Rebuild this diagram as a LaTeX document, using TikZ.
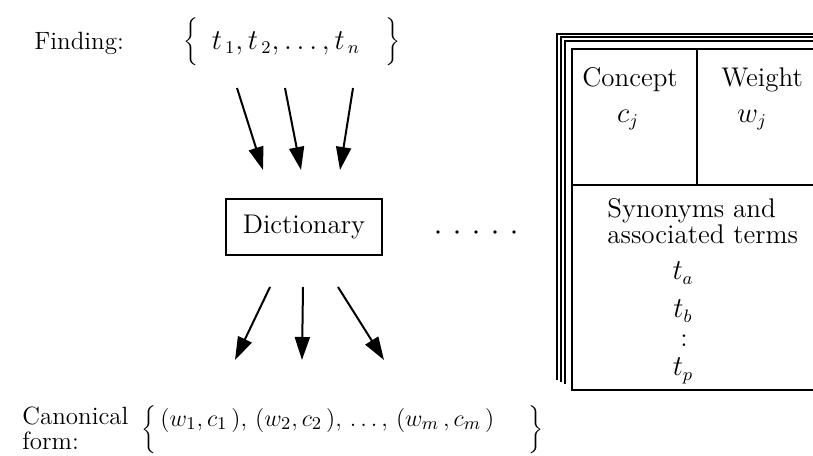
\documentclass[tikz,border=0pt]{standalone}
\usetikzlibrary{arrows.meta}
\begin{document}
\begin{tikzpicture}[
    x=0.5pt, y=-0.5pt,
    every node/.style={font=\fontsize{13.5}{16}\selectfont, inner sep=0pt},
    sideLabel/.style={font=\fontsize{12.5}{12.5}\selectfont, align=left, anchor=west},
    flowArrow/.style={line width=1pt, -{Triangle[length=11.5pt,width=7.5pt]}},
    dictBox/.style={draw, line width=0.8pt, minimum width=78pt, minimum height=28pt},
    backPage/.style={line width=0.7pt},
    frontPage/.style={line width=1.2pt}
]
    \useasboundingbox (0,0) rectangle (813,455);

    % --- 1. Finding ---
    \node[sideLabel] (findLabel) at (34,43) {Finding:};
    \node (findOpen) at (191,42) {$\bigg\{$};
    \node (findTerms) at (286,43) {$t_{\,1}, t_{\,2}, \ldots, t_{\,n}$};
    \node (findClose) at (393,42) {$\bigg\}$};

    % --- 2. Dictionary ---
    \node[dictBox] (dict) at (304,227) {Dictionary};
    \foreach \i in {0,...,4}
        \fill (438+19*\i,232) circle (1.8);

    \coordinate (in1) at (237,88);  \coordinate (to1) at (263,170);
    \coordinate (in2) at (285,88);  \coordinate (to2) at (301,170);
    \coordinate (in3) at (353,88);  \coordinate (to3) at (340,170);
    \coordinate (out1) at (270,287); \coordinate (at1) at (235,360);
    \coordinate (out2) at (303,287); \coordinate (at2) at (302,360);
    \coordinate (out3) at (338,287); \coordinate (at3) at (384,360);
    \foreach \n in {1,2,3} {
        \draw[flowArrow] (in\n) -- (to\n);
        \draw[flowArrow] (out\n) -- (at\n);
    }

    % --- 3. Canonical form ---
    \node[sideLabel] (canLabel) at (22,428) {Canonical\\form:};
    \node (canOpen) at (149,430) {$\bigg\{$};
    \node[anchor=west, font=\fontsize{12.5}{14}\selectfont] (canTerms) at (160,420)
        {$(w_1,c_1\,),\,(w_2,c_2\,),\,\ldots,\,(w_m\,,c_m\,)$};
    \node (canClose) at (536,430) {$\bigg\}$};

    % --- 4. Dictionary entry (stack of pages) ---
    \draw[backPage] (820,34) -- (557,34) -- (557,380);
    \draw[backPage] (820,37) -- (561,37) -- (561,382);
    \draw[backPage] (820,41) -- (565,41) -- (565,384);
    \draw[frontPage] (820,49) -- (572,49) -- (572,390) -- (820,390);
    \draw[frontPage] (697,49) -- (697,185);
    \draw[frontPage] (572,185) -- (820,185);

    \node (concept) at (630,80) {Concept};
    \node (cj) at (628,120) {$c_j$};
    \node (weight) at (762,80) {Weight};
    \node (wj) at (752,120) {$w_j$};
    \node[align=left, anchor=north west] (synonyms) at (607,198)
        {Synonyms and\\[-3pt]associated terms};
    \node (ta) at (683,273) {$t_a$};
    \node (tb) at (683,311) {$t_b$};
    \node (tdots) at (684,341) {:};
    \node (tp) at (683,371) {$t_p$};
\end{tikzpicture}
\end{document}
